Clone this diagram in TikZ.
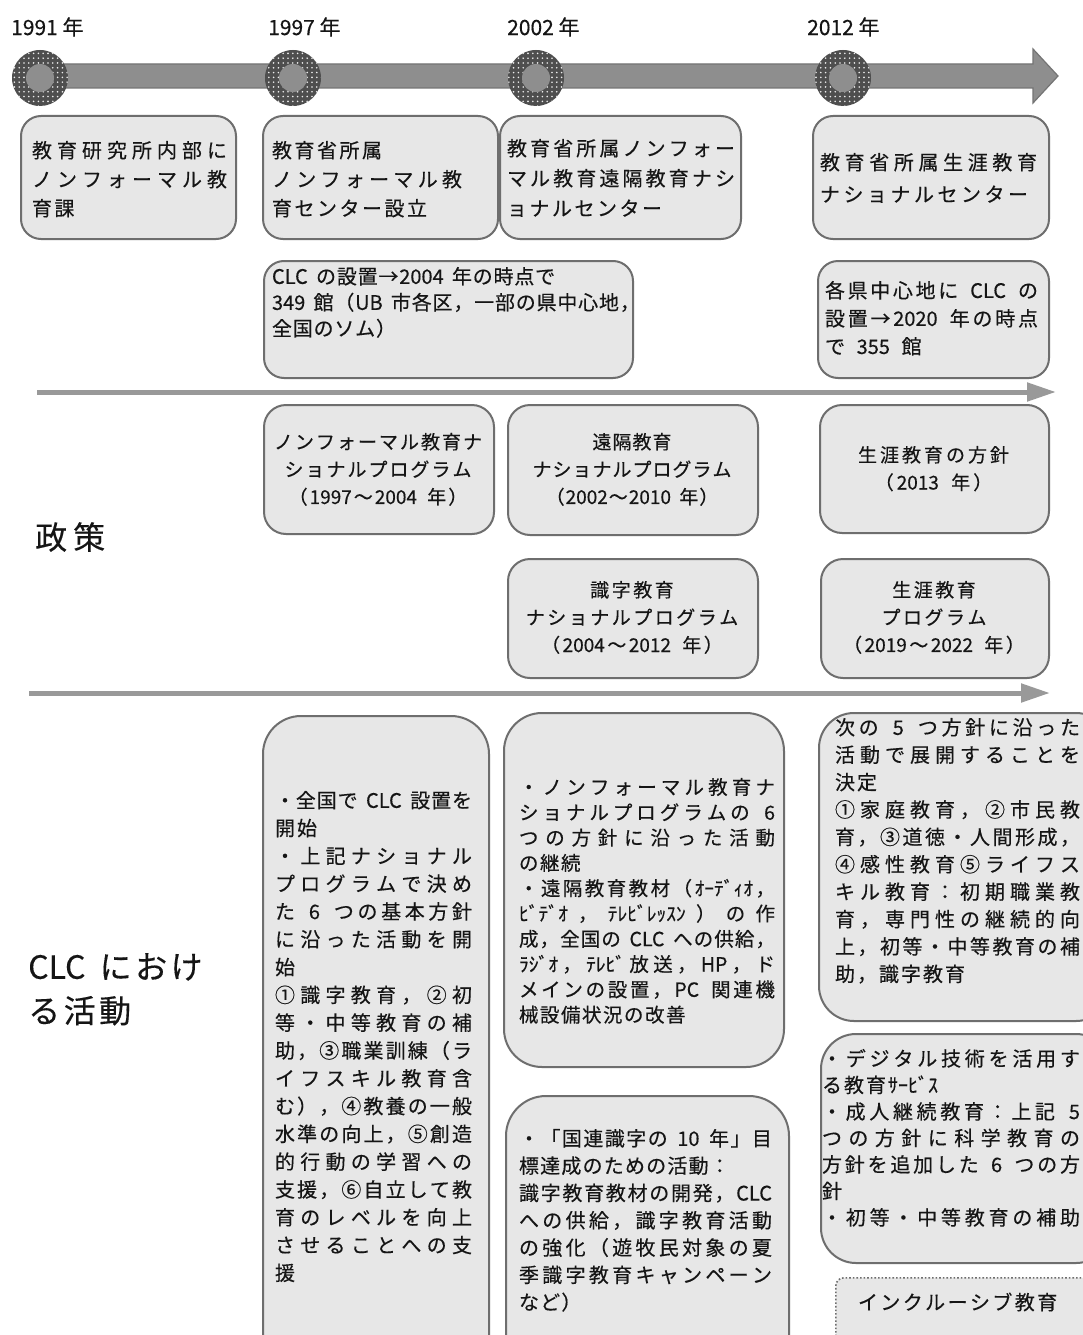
\documentclass[tikz,border=0pt]{standalone}
\usepackage{fontspec}
\setmainfont{Noto Sans CJK JP}[FakeBold=0.35]
\usetikzlibrary{arrows.meta,patterns.meta}
\newskip\chsp
\ExplSyntaxOn
\NewDocumentCommand\jline{m}{\leavevmode\hbox to \hsize{\tl_map_inline:nn{#1}{##1\hfil}\unskip}}
\NewDocumentCommand\sline{m}{\leavevmode\hbox{\tl_map_inline:nn{#1}{##1\hskip\chsp}\unskip}}
\ExplSyntaxOff
\definecolor{boxfill}{HTML}{E7E7E7}
\definecolor{boxdraw}{HTML}{6E6E6E}
\definecolor{linegray}{HTML}{999999}
\definecolor{barfill}{HTML}{8E8E8E}
\definecolor{bardraw}{HTML}{747474}
\definecolor{ringc}{HTML}{4E4E4E}
\definecolor{textc}{HTML}{151515}
\tikzdeclarepattern{
  name=wdots,
  type=uncolored,
  bounding box={(-2.4pt,-2.4pt) and (2.4pt,2.4pt)},
  tile size={(4.8pt,4.8pt)},
  code={\fill (0pt,0pt) circle (0.9pt);}
}
\begin{document}
\begin{tikzpicture}[x=1pt,y=-1pt,
  box/.style={draw=boxdraw,fill=boxfill,line width=2pt,rectangle,anchor=north west,inner sep=0pt},
  dbox/.style={draw=boxdraw,fill=boxfill,line width=1.6pt,dotted,rectangle,anchor=north west,inner sep=0pt},
  tx/.style={inner sep=0pt,outer sep=0pt,text=textc,align=left,anchor=north west},
  tc/.style={inner sep=0pt,outer sep=0pt,text=textc,align=center,anchor=north},
  chs/.style={execute at begin node={\chsp=#1\relax}},
  fa/.style={font=\fontsize{20pt}{#1}\selectfont},
  fb/.style={font=\fontsize{19pt}{27.5pt}\selectfont},
  midline/.style={line width=5pt,draw=linegray,-{Triangle[length=29pt,width=18pt]}},
  yr/.style={inner sep=0pt,text=textc,anchor=west,font=\fontsize{21pt}{24pt}\selectfont},
  big/.style={inner sep=0pt,text=textc,align=left,font=\fontsize{32pt}{44pt}\selectfont}
]
\useasboundingbox (0,0) rectangle (1083,1335);
\fill[white] (0,0) rectangle (1083,1335);

% ---------- timeline ----------
\filldraw[fill=barfill,draw=bardraw,line width=1.2pt]
  (30,64) -- (1033,64) -- (1033,49) -- (1058,76) -- (1033,103) -- (1033,88) -- (30,88) -- cycle;
\foreach \cx in {40,293,536,843}{
  \fill[ringc] (\cx,78) circle (28pt);
  \fill[pattern=wdots,pattern color=white!85!gray] (\cx,78) circle (28pt);
  \fill[barfill] (\cx,78) circle (14pt);
}
\node[yr] (y1991) at (11,27) {1991 年};
\node[yr] (y1997) at (268,27) {1997 年};
\node[yr] (y2002) at (507,27) {2002 年};
\node[yr] (y2012) at (807,27) {2012 年};

% ---------- row 1 ----------
\node[box,rounded corners=20pt,minimum width=215pt,minimum height=123pt] (bA) at (20,115) {};
\node[box,rounded corners=20pt,minimum width=235pt,minimum height=123pt] (bB) at (262,115) {};
\node[box,rounded corners=20pt,minimum width=241pt,minimum height=123pt] (bC) at (499,115) {};
\node[box,rounded corners=20pt,minimum width=236pt,minimum height=123pt] (bD) at (812,115) {};
\node[tx,fa=29pt,chs=2.5pt,text width=195pt] (tA) at (32,141)
  {\jline{教育研究所内部に}\\\jline{ノンフォーマル教}\\\sline{育課}};
\node[tx,fa=29pt,chs=2.5pt,text width=190pt] (tB) at (272,141)
  {\sline{教育省所属}\\\jline{ノンフォーマル教}\\\sline{育センター設立}};
\node[tx,fa=30pt,chs=2.5pt,text width=228pt] (tC) at (507,139)
  {\jline{教育省所属ノンフォー}\\\jline{マル教育遠隔教育ナシ}\\\sline{ョナルセンター}};
\node[tx,fa=32pt,chs=3.5pt,text width=217pt] (tD) at (820,153)
  {\jline{教育省所属生涯教育}\\\sline{ナショナルセンター}};

% ---------- row 2 ----------
\node[box,rounded corners=20pt,minimum width=369pt,minimum height=117pt] (bE) at (263,260) {};
\node[box,rounded corners=20pt,minimum width=231pt,minimum height=117pt] (bF) at (817,260) {};
\node[tx,fa=26pt,chs=0.8pt,text width=355pt] (tE) at (272,267)
  {\sline{{CLC}~の設置→{2004}~年の時点で}\\\sline{{349}~館（{UB}~市各区，一部の県中心地，}\\\sline{全国のソム）}};
\node[tx,fa=28pt,chs=2.5pt,text width=213pt] (tF) at (825,281)
  {\jline{各県中心地に~{CLC}~の}\\\jline{設置→{2020}~年の時点}\\\sline{で~{355}~館}};

\coordinate (a1s) at (37,392);
\coordinate (a1e) at (1056,392);
\draw[midline] (a1s) -- (a1e);

% ---------- rows 3-4 ----------
\node[box,rounded corners=22pt,minimum width=230pt,minimum height=129pt] (bG) at (263,404) {};
\node[box,rounded corners=22pt,minimum width=250pt,minimum height=130pt] (bH) at (507,404) {};
\node[box,rounded corners=22pt,minimum width=229pt,minimum height=128pt] (bI) at (819,404) {};
\node[box,rounded corners=22pt,minimum width=250pt,minimum height=119pt] (bJ) at (507,558) {};
\node[box,rounded corners=22pt,minimum width=228pt,minimum height=119pt] (bK) at (820,558) {};
\node[tc,fb,chs=2pt,text width=228pt] (tG) at (378,433)
  {\sline{ノンフォーマル教育ナ}\\\sline{ショナルプログラム}\\\sline{（{1997}～{2004}~年）}};
\node[tc,fb,chs=1pt,text width=248pt] (tH) at (632,433)
  {\sline{遠隔教育}\\\sline{ナショナルプログラム}\\\sline{（{2002}～{2010}~年）}};
\node[tc,fb,chs=3pt,text width=226pt] (tI) at (933.5,446)
  {\sline{生涯教育の方針}\\\sline{（{2013}~年）}};
\node[tc,fb,chs=2.5pt,text width=248pt] (tJ) at (632,581)
  {\sline{識字教育}\\\sline{ナショナルプログラム}\\\sline{（{2004}～{2012}~年）}};
\node[tc,fb,chs=2.5pt,text width=226pt] (tK) at (934,581)
  {\sline{生涯教育}\\\sline{プログラム}\\\sline{（{2019}～{2022}~年）}};

\node[big,anchor=west,chs=6pt] (lab1) at (35,537) {\sline{政策}};

\coordinate (a2s) at (29,693);
\coordinate (a2e) at (1050,693);
\draw[midline] (a2s) -- (a2e);

% ---------- CLC activities ----------
\node[big,anchor=north west,chs=3.5pt] (lab2) at (28,953)
  {\sline{{CLC}~におけ}\\\sline{る活動}};

\node[box,rounded corners=38pt,minimum width=226pt,minimum height=670pt] (bL) at (262,715) {};
\node[box,rounded corners=38pt,minimum width=280pt,minimum height=354pt] (bM) at (503,712) {};
\node[box,rounded corners=40pt,minimum width=283pt,minimum height=305pt] (bN) at (505,1095) {};
\node[box,rounded corners=35pt,minimum width=292pt,minimum height=308pt] (bO) at (818,712) {};
\node[box,rounded corners=35pt,minimum width=290pt,minimum height=229pt] (bP) at (820,1033) {};
\node[dbox,rounded corners=8pt,minimum width=275pt,minimum height=83pt] (bQ) at (835,1277) {};

\node[tx,fa=27.8pt,chs=2pt,text width=197pt] (tL) at (275,791)
  {\jline{・全国で~{CLC}~設置を}\\
   \sline{開始}\\
   \jline{・上記ナショナル}\\
   \jline{プログラムで決め}\\
   \jline{た~6~つの基本方針}\\
   \jline{に沿った活動を開}\\
   \sline{始}\\
   \jline{①識字教育，②初}\\
   \jline{等・中等教育の補}\\
   \jline{助，③職業訓練（ラ}\\
   \jline{イフスキル教育含}\\
   \jline{む），④教養の一般}\\
   \jline{水準の向上，⑤創造}\\
   \jline{的行動の学習への}\\
   \jline{支援，⑥自立して教}\\
   \jline{育のレベルを向上}\\
   \jline{させることへの支}\\
   \sline{援}};

\node[tx,font=\fontsize{19.5pt}{25.3pt}\selectfont,chs=1.5pt,text width=256pt] (tM) at (519,778)
  {\jline{・ノンフォーマル教育ナ}\\
   \jline{ショナルプログラムの~6}\\
   \jline{つの方針に沿った活動}\\
   \sline{の継続}\\
   \jline{・遠隔教育教材（{ｵｰﾃﾞｨｵ}，}\\
   \jline{{ﾋﾞﾃﾞｵ}，{ﾃﾚﾋﾞﾚｯｽﾝ}）の作}\\
   \jline{成，全国の~{CLC}~への供給，}\\
   \jline{{ﾗｼﾞｵ}，{ﾃﾚﾋﾞ}放送，{HP}，ド}\\
   \jline{メインの設置，{PC}~関連機}\\
   \sline{械設備状況の改善}};

\node[tx,fa=27.3pt,chs=1.2pt,text width=253pt] (tN) at (519,1129)
  {\jline{・「国連識字の~{10}~年」目}\\
   \sline{標達成のための活動：}\\
   \jline{識字教育教材の開発，{CLC}}\\
   \jline{への供給，識字教育活動}\\
   \jline{の強化（遊牧民対象の夏}\\
   \jline{季識字教育キャンペーン}\\
   \sline{など）}};

\node[tx,fa=27.4pt,chs=2pt,text width=245pt] (tO) at (835,718)
  {\jline{次の~5~つ方針に沿った}\\
   \jline{活動で展開することを}\\
   \sline{決定}\\
   \jline{①家庭教育，②市民教}\\
   \jline{育，③道徳・人間形成，}\\
   \jline{④感性教育⑤ライフス}\\
   \jline{キル教育：初期職業教}\\
   \jline{育，専門性の継続的向}\\
   \jline{上，初等・中等教育の補}\\
   \sline{助，識字教育}};

\node[tx,fa=26.5pt,chs=2pt,text width=258pt] (tP) at (822,1049)
  {\jline{・デジタル技術を活用す}\\
   \sline{る教育{ｻｰﾋﾞｽ}}\\
   \jline{・成人継続教育：上記~5}\\
   \jline{つの方針に科学教育の}\\
   \jline{方針を追加した~6~つの方}\\
   \sline{針}\\
   \jline{・初等・中等教育の補助}};

\node[tx,fa=24pt,chs=2.4pt,anchor=west] (tQ) at (858,1302) {\sline{インクルーシブ教育}};
\end{tikzpicture}
\end{document}
